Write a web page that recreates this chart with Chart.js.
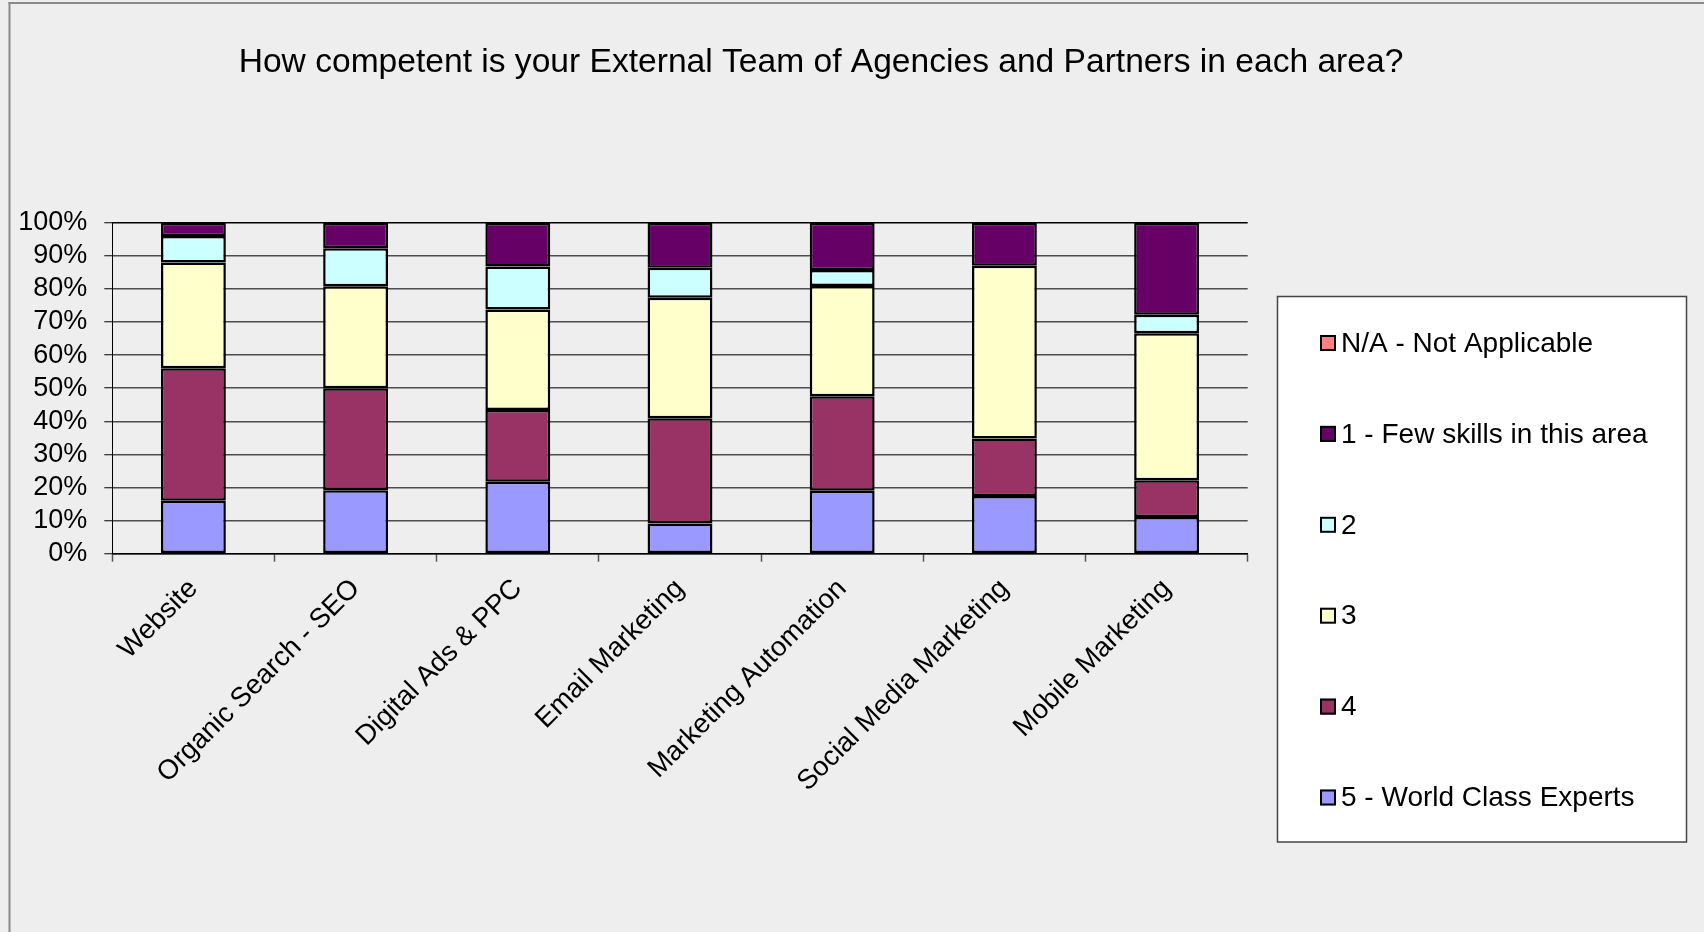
<!DOCTYPE html>
<html>
<head>
<meta charset="utf-8">
<script src="https://cdn.jsdelivr.net/npm/chart.js@4.4.1/dist/chart.umd.min.js"></script>
<style>
  html, body { margin: 0; padding: 0; background: #eeeeee; overflow: hidden; }
  #wrap { position: relative; width: 1704px; height: 932px; }
</style>
</head>
<body>
<div id="wrap"><canvas id="chart" width="1704" height="932"></canvas></div>
<script>
// Survey areas (x axis)
const categories = [
  'Website',
  'Organic Search - SEO',
  'Digital Ads & PPC',
  'Email Marketing',
  'Marketing Automation',
  'Social Media Marketing',
  'Mobile Marketing'
];

// Share of answers per rating, in percent of respondents
const worldClass    = [16.0, 19.2, 21.7,  9.1, 19.0, 17.4, 11.1]; // 5 - World Class Experts
const rating4       = [40.0, 30.8, 21.7, 31.8, 28.6, 17.4, 11.1]; // 4
const rating3       = [32.0, 30.8, 30.4, 36.4, 33.3, 52.2, 44.4]; // 3
const rating2       = [ 8.0, 11.5, 13.0,  9.1,  4.8,  0.0,  5.6]; // 2
const fewSkills     = [ 4.0,  7.7, 13.1, 13.6, 14.3, 13.0, 27.8]; // 1 - Few skills in this area
const notApplicable = [ 0.0,  0.0,  0.0,  0.0,  0.0,  0.0,  0.0]; // N/A

// Series labels and fills, bottom of the stack first
const seriesLabels = ['5 - World Class Experts', '4', '3', '2', '1 - Few skills in this area', 'N/A - Not Applicable'];
const seriesColors = ['#9999ff', '#993366', '#ffffcc', '#ccffff', '#660066', '#ff8080'];
const seriesValues = [worldClass, rating4, rating3, rating2, fewSkills, notApplicable];

// Value axis tick labels
const percentTicks = ['0%', '10%', '20%', '30%', '40%', '50%', '60%', '70%', '80%', '90%', '100%'];

const chartTitle = 'How competent is your External Team of Agencies and Partners in each area?';

const FONT = "'Liberation Sans', Arial, Helvetica, sans-serif";

// Light grey page with the frame lines along the top and left
const framePlugin = {
  id: 'frame',
  beforeDraw(chart) {
    const ctx = chart.ctx;
    ctx.save();
    ctx.fillStyle = '#eeeeee';
    ctx.fillRect(0, 0, chart.width, chart.height);
    ctx.fillStyle = '#8a8a8a';
    ctx.fillRect(8.5, 2, 2, chart.height);
    ctx.fillRect(8.5, 2, chart.width, 2);
    ctx.restore();
  }
};

// Title and boxed legend (legend rows listed top of the stack first)
const titleLegendPlugin = {
  id: 'titleLegend',
  afterDraw(chart) {
    const ctx = chart.ctx;
    ctx.save();
    ctx.fillStyle = '#000';
    ctx.font = '33.6px ' + FONT;
    ctx.textAlign = 'center';
    ctx.textBaseline = 'middle';
    ctx.fillText(chartTitle, 821, 63);

    const box = { left: 1277.5, top: 296.5, right: 1686.5, bottom: 842 };
    ctx.fillStyle = '#ffffff';
    ctx.fillRect(box.left, box.top, box.right - box.left, box.bottom - box.top);
    ctx.strokeStyle = '#444';
    ctx.lineWidth = 1.5;
    ctx.strokeRect(box.left, box.top, box.right - box.left, box.bottom - box.top);

    const ds = chart.data.datasets.slice().reverse();
    ctx.font = '28px ' + FONT;
    ctx.textAlign = 'left';
    ds.forEach((d, i) => {
      const cy = 343 + i * 90.9;
      ctx.fillStyle = d.backgroundColor;
      ctx.fillRect(1320, cy - 8, 16, 16);
      ctx.strokeStyle = '#000';
      ctx.lineWidth = 2;
      ctx.strokeRect(1321, cy - 7, 14, 14);
      ctx.fillStyle = '#000';
      ctx.fillText(d.label, 1341, cy + 1);
    });
    ctx.restore();
  }
};

new Chart(document.getElementById('chart'), {
  type: 'bar',
  data: {
    labels: categories,
    datasets: seriesLabels.map((label, i) => ({
      label,
      data: seriesValues[i],
      backgroundColor: seriesColors[i],
      borderColor: '#000000',
      borderWidth: 2.5,
      borderSkipped: false,
      categoryPercentage: 1.0,
      barPercentage: 0.4
    }))
  },
  options: {
    responsive: false,
    devicePixelRatio: 1,
    animation: false,
    layout: { padding: { left: 0, top: 222.7, right: 456.3, bottom: 0 } },
    plugins: {
      legend: { display: false },
      title: { display: false },
      tooltip: { enabled: false }
    },
    scales: {
      x: {
        stacked: true,
        offset: true,
        afterFit(scale) { scale.height = 932 - 553.7; },
        grid: {
          offset: true,
          drawOnChartArea: false,
          drawTicks: true,
          tickLength: 8,
          tickColor: '#555',
          tickWidth: 1.5
        },
        border: { display: true, color: '#000', width: 1.5 },
        ticks: {
          autoSkip: false,
          minRotation: 45,
          maxRotation: 45,
          padding: 11,
          color: '#000',
          font: { family: FONT, size: 27.5 }
        }
      },
      y: {
        stacked: true,
        min: 0,
        max: 100,
        afterFit(scale) { scale.width = 112.3; },
        grid: {
          color: (c) => (c.tick && c.tick.value === 100 ? '#000' : '#4d4d4d'),
          lineWidth: 1.5,
          drawTicks: true,
          tickLength: 8,
          tickColor: '#000',
          tickWidth: 1
        },
        border: { display: true, color: '#000', width: 1 },
        ticks: {
          autoSkip: false,
          stepSize: 10,
          padding: 17,
          color: '#000',
          font: { family: FONT, size: 27 },
          callback: (value, index) => percentTicks[index]
        }
      }
    }
  },
  plugins: [framePlugin, titleLegendPlugin]
});
</script>
</body>
</html>
